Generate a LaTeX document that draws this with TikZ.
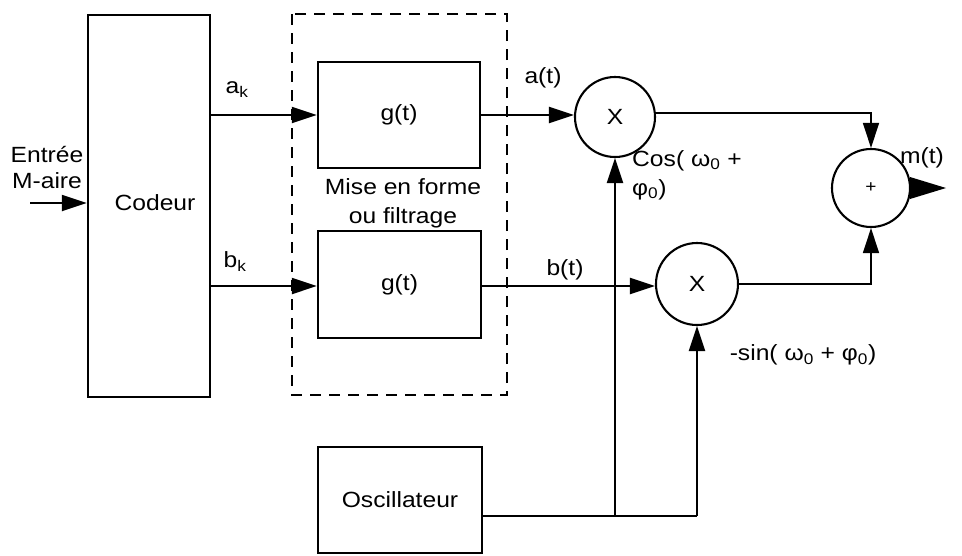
\documentclass[tikz,border=0pt]{standalone}
\usepackage{fontspec}
\setmainfont{Liberation Sans}[FakeStretch=1.12]
\usetikzlibrary{arrows.meta}
\begin{document}
\begin{tikzpicture}[x=1pt,y=-1pt,
  font=\fontsize{22}{26}\selectfont,
  blk/.style={draw,line width=2.3pt,inner sep=0pt},
  mult/.style={draw,circle,line width=2.1pt,minimum size=80pt,inner sep=0pt},
  conn/.style={line width=2.1pt},
  thinconn/.style={line width=1.4pt},
  tip/.style={-{Triangle[length=25pt,width=16pt]}},
  lbl/.style={inner sep=0pt}]
\useasboundingbox (0,0) rectangle (962,555);
% blocks
\node[blk,minimum width=122pt,minimum height=382pt] (cod) at (149,206) {};
\node[lbl] (codt) at (155,203) {Codeur};
\draw[line width=2pt,dash pattern=on 11pt off 8pt] (292,14) rectangle (507,395);
\node[blk,minimum width=162pt,minimum height=106pt] (g1) at (399,115) {g(t)};
\node[blk,minimum width=163pt,minimum height=107pt] (g2) at (399.5,284.5) {g(t)};
\node[blk,minimum width=164pt,minimum height=106pt] (osc) at (400,500) {Oscillateur};
\node[lbl,align=center] (mise) at (403,203) {Mise en forme\\[3pt]ou filtrage};
% multipliers and adder
\node[mult] (m1) at (615,117) {X};
\node[mult,minimum size=82pt] (m2) at (697,284) {X};
\node[mult,minimum size=78pt] (sum) at (871,188) {\fontsize{17}{19}\selectfont +};
% input
\node[lbl,align=center] (ent) at (47,168) {Entrée\\M-aire};
\coordinate (in) at (30,203);
\draw[conn,tip] (in) -- (in -| cod.west);
% coder to filters
\draw[conn,tip] (cod.east |- g1.west) -- (g1.west);
\draw[conn,tip] (cod.east |- 0,286) -- (g2.west |- 0,286);
\node[lbl] (ak) at (237,90) {a\textsubscript{k}};
\node[lbl] (bk) at (235,262) {b\textsubscript{k}};
% filters to multipliers
\draw[conn,tip] (g1.east) -- (g1.east -| m1.west);
\draw[conn,tip] (g2.east |- 0,286) -- (m2.west |- 0,286);
\node[lbl] (at) at (543,78) {a(t)};
\node[lbl] (bt) at (565,270) {b(t)};
% oscillator
\coordinate (j1) at (615,516);
\coordinate (j2) at (697,516);
\draw[conn] (osc.east |- j1) -- (j2);
\draw[conn,tip] (j1) -- (m1.south);
\draw[conn,tip] (j2) -- (m2.south);
\node[lbl,align=left,anchor=north west] (cos) at (632,150) {Cos( ω\textsubscript{0} +\\[3pt]φ\textsubscript{0})};
\node[lbl] (sin) at (803,355) {-sin( ω\textsubscript{0} + φ\textsubscript{0})};
% to adder
\draw[thinconn,tip] (m1.east |- 0,113) -| (sum.north);
\draw[thinconn,tip] (m2.east) -| (sum.south);
\coordinate (out) at (946,188);
\draw[line width=0pt,-{Triangle[length=36pt,width=22pt]}] (sum.east) -- (out);
\node[lbl] (mt) at (922,158) {m(t)};
\end{tikzpicture}
\end{document}
